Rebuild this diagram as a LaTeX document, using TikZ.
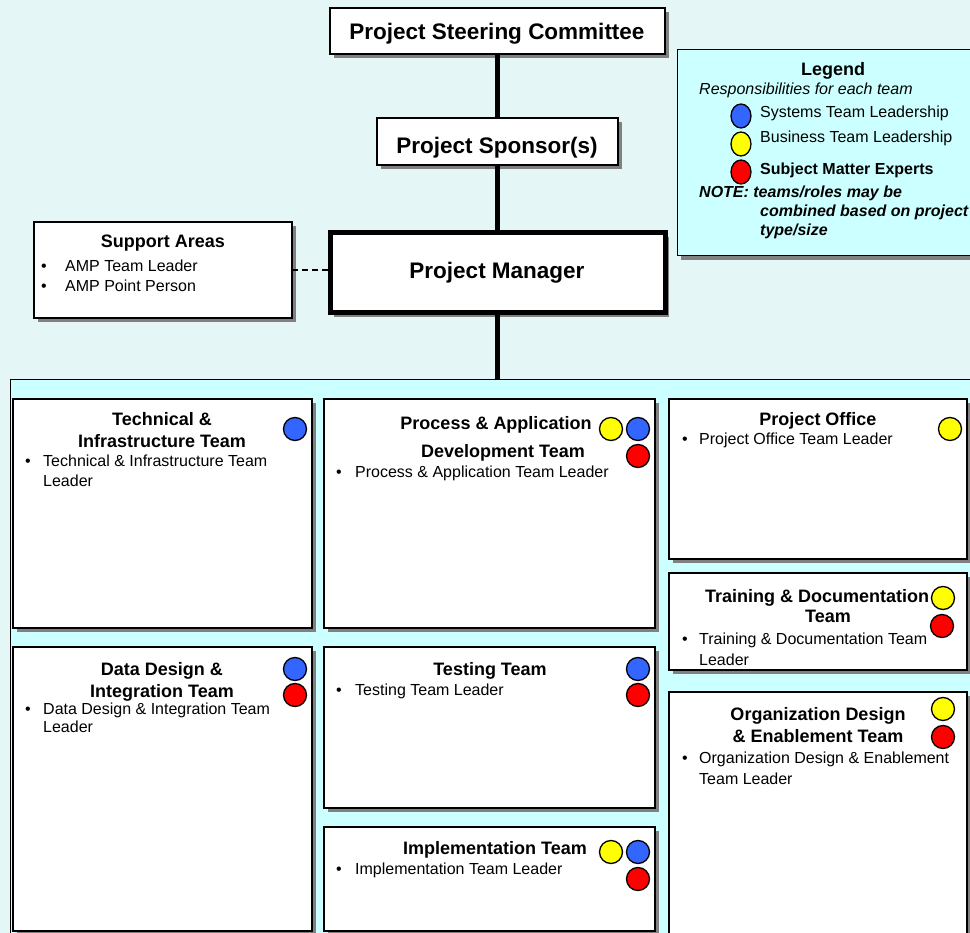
\documentclass[tikz,border=0pt]{standalone}
\usepackage{fontspec}
\setmainfont{Liberation Sans}
\usetikzlibrary{shadows,shapes.geometric}

\definecolor{bgcyan}{HTML}{E4F6F6}
\definecolor{panel}{HTML}{CCFFFF}
\definecolor{shade}{HTML}{808080}
\definecolor{sysblue}{HTML}{3366FF}
\definecolor{bizyellow}{HTML}{FFFF00}
\definecolor{smered}{HTML}{FF0000}

\tikzset{
  box/.style={draw=black, line width=1.6pt, fill=white, inner sep=0pt, outer sep=0pt,
    anchor=north west,
    drop shadow={shadow xshift=4pt, shadow yshift=-4pt, opacity=1, fill=shade}},
  bigbox/.style={box, line width=5pt},
  panelbox/.style={draw=black, line width=1pt, fill=panel, inner sep=0pt, outer sep=0pt, anchor=north west},
  conn/.style={line width=5pt},
  dashconn/.style={line width=2.5pt, dash pattern=on 6pt off 4pt},
  head/.style={font=\fontsize{22.5}{27}\selectfont\bfseries, inner sep=0pt, anchor=base},
  ttl/.style={font=\fontsize{18}{22}\selectfont\bfseries, inner sep=0pt, anchor=base},
  txt/.style={font=\fontsize{16}{19}\selectfont, inner sep=0pt, anchor=base west},
  dot/.style={circle, draw=black, line width=1.3pt, minimum size=23pt, inner sep=0pt},
  key/.style={ellipse, draw=black, line width=1.3pt, minimum width=20pt, minimum height=24pt, inner sep=0pt},
}

\begin{document}
\begin{tikzpicture}[x=1pt,y=-1pt]
\useasboundingbox (0,0) rectangle (970,933);
\clip (0,0) rectangle (970,933);
\fill[bgcyan] (0,0) rectangle (970,933);

% ---- management chain ----
\node[box, minimum width=335pt, minimum height=46pt] (steer) at (330,8) {};
\node[head] (steer-t) at (497,40) {Project Steering Committee};

\node[box, minimum width=241pt, minimum height=47pt] (sponsor) at (377,118) {};
\node[head] (sponsor-t) at (497,154) {Project Sponsor(s)};

\node[bigbox, minimum width=335pt, minimum height=80pt] (pm) at (330,233) {};
\node[head] (pm-t) at (497,279) {Project Manager};

\node[box, minimum width=258pt, minimum height=96pt] (support) at (34,222) {};
\node[ttl] (support-t) at (163,248) {Support Areas};
\node[txt] (support-b1) at (41,272) {•};
\node[txt] (support-l1) at (65,272) {AMP Team Leader};
\node[txt] (support-b2) at (41,292) {•};
\node[txt] (support-l2) at (65,292) {AMP Point Person};

% ---- legend ----
\node[panelbox, minimum width=320pt, minimum height=206pt,
  drop shadow={shadow xshift=4pt, shadow yshift=-4pt, opacity=1, fill=shade}] (legend) at (677,50) {};
\node[ttl] (legend-t) at (833,76) {Legend};
\node[txt, font=\fontsize{16}{19}\selectfont\itshape] (legend-sub) at (699,95) {Responsibilities for each team};
\node[key, fill=sysblue] (key-s) at (741,116) {};
\node[txt] (key-s-t) at (760,118) {Systems Team Leadership};
\node[key, fill=bizyellow] (key-b) at (741,144) {};
\node[txt] (key-b-t) at (760,143) {Business Team Leadership};
\node[key, fill=smered] (key-e) at (741,172) {};
\node[txt, font=\fontsize{16}{19}\selectfont\bfseries] (key-e-t) at (760,175) {Subject Matter Experts};
\node[txt, font=\fontsize{16}{19}\selectfont\bfseries\itshape] (note1) at (699,198) {NOTE: teams/roles may be};
\node[txt, font=\fontsize{16}{19}\selectfont\bfseries\itshape] (note2) at (760,217) {combined based on project};
\node[txt, font=\fontsize{16}{19}\selectfont\bfseries\itshape] (note3) at (760,236) {type/size};

% ---- team panel ----
\node[panelbox, minimum width=990pt, minimum height=600pt] (teams) at (10,380) {};

\draw[conn] (steer.south) -- (sponsor.north);
\draw[conn] (sponsor.south) -- (pm.north);
\draw[conn] (pm.south) -- (pm.south |- teams.north);
\draw[dashconn] (support.east) -- (support.east -| pm.west);

% Technical & Infrastructure
\node[box, minimum width=299pt, minimum height=229pt] (tech) at (13,399) {};
\node[ttl] (tech-t1) at (162,425) {Technical \&};
\node[ttl] (tech-t2) at (162,447) {Infrastructure Team};
\node[txt] (tech-b) at (25,467) {•};
\node[txt] (tech-l1) at (43,467) {Technical \& Infrastructure Team};
\node[txt] (tech-l2) at (43,486) {Leader};

% Process & Application Development
\node[box, minimum width=331pt, minimum height=229pt] (proc) at (324,399) {};
\node[ttl] (proc-t1) at (496,430) {Process \& Application};
\node[ttl] (proc-t2) at (503,457) {Development Team};
\node[txt] (proc-b) at (336,478) {•};
\node[txt] (proc-l1) at (355,478) {Process \& Application Team Leader};

% Project Office
\node[box, minimum width=298pt, minimum height=160pt] (office) at (669,399) {};
\node[ttl] (office-t) at (818,425) {Project Office};
\node[txt] (office-b) at (682,445) {•};
\node[txt] (office-l1) at (699,445) {Project Office Team Leader};

% Training & Documentation
\node[box, minimum width=298pt, minimum height=97pt] (train) at (669,573) {};
\node[ttl] (train-t1) at (817,602) {Training \& Documentation};
\node[ttl] (train-t2) at (828,622) {Team};
\node[txt] (train-b) at (682,644) {•};
\node[txt] (train-l1) at (699,644) {Training \& Documentation Team};
\node[txt] (train-l2) at (699,665) {Leader};

% Data Design & Integration
\node[box, minimum width=299pt, minimum height=284pt] (data) at (13,647) {};
\node[ttl] (data-t1) at (162,675) {Data Design \&};
\node[ttl] (data-t2) at (162,697) {Integration Team};
\node[txt] (data-b) at (25,714) {•};
\node[txt] (data-l1) at (43,714) {Data Design \& Integration Team};
\node[txt] (data-l2) at (43,732) {Leader};

% Testing
\node[box, minimum width=331pt, minimum height=161pt] (test) at (324,647) {};
\node[ttl] (test-t) at (490,675) {Testing Team};
\node[txt] (test-b) at (336,695) {•};
\node[txt] (test-l1) at (355,695) {Testing Team Leader};

% Implementation
\node[box, minimum width=331pt, minimum height=104pt] (impl) at (324,827) {};
\node[ttl] (impl-t) at (495,854) {Implementation Team};
\node[txt] (impl-b) at (336,874) {•};
\node[txt] (impl-l1) at (355,874) {Implementation Team Leader};

% Organization Design & Enablement
\node[box, minimum width=298pt, minimum height=260pt] (org) at (669,692) {};
\node[ttl] (org-t1) at (818,720) {Organization Design};
\node[ttl] (org-t2) at (818,742) {\& Enablement Team};
\node[txt] (org-b) at (682,763) {•};
\node[txt] (org-l1) at (699,763) {Organization Design \& Enablement};
\node[txt] (org-l2) at (699,784) {Team Leader};

% ---- responsibility markers ----
\node[dot, fill=sysblue] (tech-s) at (295,429) {};

\node[dot, fill=bizyellow] (proc-b1) at (611,429) {};
\node[dot, fill=sysblue] (proc-s) at (638,429) {};
\node[dot, fill=smered] (proc-e) at (638,456) {};

\node[dot, fill=bizyellow] (office-y) at (950,429) {};

\node[dot, fill=bizyellow] (train-y) at (943,598) {};
\node[dot, fill=smered] (train-e) at (942,626) {};

\node[dot, fill=sysblue] (data-s) at (295,669) {};
\node[dot, fill=smered] (data-e) at (295,695) {};

\node[dot, fill=sysblue] (test-s) at (638,669) {};
\node[dot, fill=smered] (test-e) at (638,695) {};

\node[dot, fill=bizyellow] (impl-y) at (611,852) {};
\node[dot, fill=sysblue] (impl-s) at (638,852) {};
\node[dot, fill=smered] (impl-e) at (638,879) {};

\node[dot, fill=bizyellow] (org-y) at (943,709) {};
\node[dot, fill=smered] (org-e) at (943,737) {};
\end{tikzpicture}
\end{document}
